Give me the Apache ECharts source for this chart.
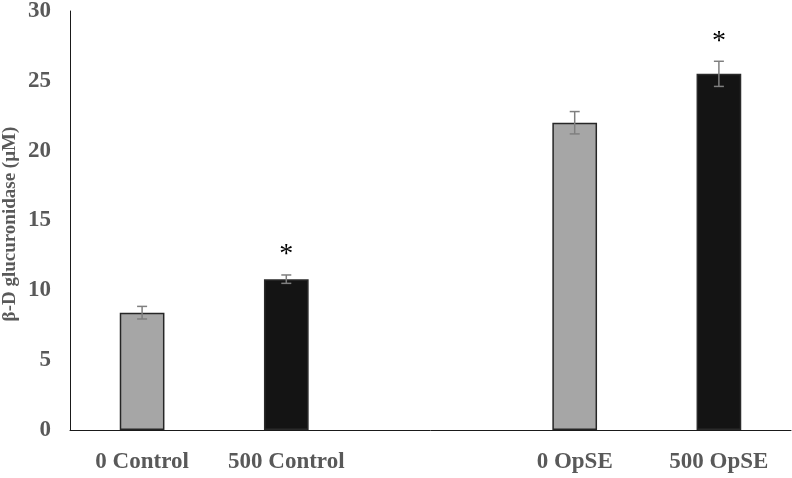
<!DOCTYPE html>
<html>
<head>
<meta charset="utf-8">
<script src="https://cdn.jsdelivr.net/npm/echarts@6/dist/echarts.min.js"></script>
<style>html,body{margin:0;padding:0;background:#fff}#c{width:792px;height:478px}</style>
</head>
<body>
<div id="c"></div>
<script>
var categories = ['0 Control', '500 Control', '', '0 OpSE', '500 OpSE'];
var means = [8.4, 10.8, null, 22.0, 25.5];
var errors = [0.45, 0.3, null, 0.8, 0.9];
var significance = ['', '*', '', '', '*'];
var yTicks = [0, 5, 10, 15, 20, 25, 30];

var barColors = ['#a6a6a6', '#141414', '#ffffff', '#a6a6a6', '#141414'];
var barBorders = ['#262626', '#2a2a2a', '#ffffff', '#262626', '#2a2a2a'];

var chart = echarts.init(document.getElementById('c'), null, {renderer: 'canvas'});

var barData = means.map(function (v, i) {
  return {value: v, itemStyle: {color: barColors[i], borderColor: barBorders[i], borderWidth: 1.5}};
});
var errData = means.map(function (v, i) {
  return v == null ? [i, null, null] : [i, v - errors[i], v + errors[i]];
});

chart.setOption({
  animation: false,
  grid: {left: 70, right: 1, top: 11, bottom: 48, outerBoundsMode: 'none', containLabel: false},
  xAxis: {
    type: 'category',
    data: categories,
    axisLine: {lineStyle: {color: '#1a1a1a', width: 1}},
    axisTick: {show: false},
    axisLabel: {
      color: '#595959', fontFamily: 'Liberation Serif', fontWeight: 'bold', fontSize: 23,
      margin: 21, interval: 0
    }
  },
  yAxis: {
    type: 'value',
    min: yTicks[0], max: yTicks[yTicks.length - 1], interval: 5,
    name: 'β-D glucuronidase (µM)',
    nameLocation: 'middle',
    nameGap: 50,
    nameMoveOverlap: false,
    nameTextStyle: {
      color: '#595959', fontFamily: 'Liberation Serif', fontWeight: 'bold', fontSize: 19,
      padding: [0, 7, 0, 0]
    },
    axisLine: {show: true, lineStyle: {color: '#1a1a1a', width: 1}},
    axisTick: {show: false},
    splitLine: {show: false},
    axisLabel: {
      color: '#595959', fontFamily: 'Liberation Serif', fontWeight: 'bold', fontSize: 23,
      margin: 19
    }
  },
  series: [
    {
      type: 'bar',
      data: barData,
      barWidth: '31%',
      silent: true
    },
    {
      type: 'custom',
      silent: true,
      data: errData,
      encode: {x: 0, y: [1, 2]},
      z: 10,
      renderItem: function (params, api) {
        var idx = params.dataIndex;
        if (means[idx] == null) return null;
        var lo = api.coord([api.value(0), api.value(1)]);
        var hi = api.coord([api.value(0), api.value(2)]);
        var cap = 5;
        var style = {stroke: '#7f7f7f', lineWidth: 1.5};
        var children = [
          {type: 'line', shape: {x1: hi[0], y1: hi[1], x2: lo[0], y2: lo[1]}, style: style},
          {type: 'line', shape: {x1: hi[0] - cap, y1: hi[1], x2: hi[0] + cap, y2: hi[1]}, style: style},
          {type: 'line', shape: {x1: lo[0] - cap, y1: lo[1], x2: lo[0] + cap, y2: lo[1]}, style: style}
        ];
        if (significance[idx]) {
          children.push({
            type: 'text',
            style: {
              text: significance[idx], x: hi[0], y: hi[1] - 20,
              align: 'center', verticalAlign: 'middle',
              fill: '#000', font: '28px "Liberation Serif"'
            }
          });
        }
        return {type: 'group', children: children};
      }
    }
  ]
});
</script>
</body>
</html>
